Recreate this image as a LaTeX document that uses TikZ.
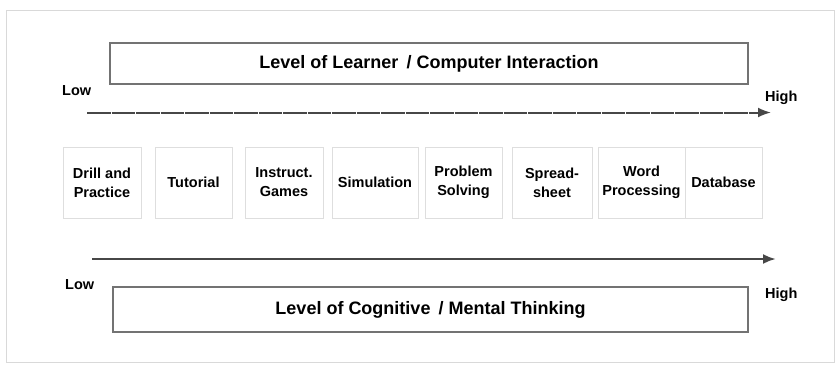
\documentclass[tikz,border=0pt]{standalone}
\usepackage{fontspec}
\setmainfont{Liberation Sans}
\usetikzlibrary{arrows.meta}
\tikzset{
    levelbox/.style={draw=black!55, line width=1.5pt, inner sep=0pt, font=\fontsize{18}{21}\selectfont\bfseries},
    toolbox/.style={draw=black!13, line width=1pt, inner sep=0pt, align=center, minimum height=71pt, font=\fontsize{14.5}{19}\selectfont\bfseries},
    endlabel/.style={inner sep=0pt, font=\fontsize{14.5}{17}\selectfont\bfseries},
    scalearrow/.style={draw=black!72, -{Latex[length=13pt,width=10pt]}}
}

\begin{document}
\begin{tikzpicture}[x=1pt, y=-1pt]
            \useasboundingbox (0,0) rectangle (838,365);
            \draw[black!15, line width=0.8pt] (6,10) rectangle (834,362);

            \node[levelbox, minimum width=638pt, minimum height=41pt] (learner) at (429,63.5) {Level of Learner\,\ / Computer Interaction};
            \node[endlabel, anchor=base west] (lowtop) at (62,95) {Low};
            \node[endlabel, anchor=base west] (hightop) at (765,101) {High};
            \coordinate (topstart) at (87,112.5);
            \coordinate (topend) at (771,112.5);
            \draw[scalearrow, line width=2pt, dash pattern=on 23.5pt off 1pt] (topstart) -- (topend);

            \node[toolbox, minimum width=78pt] (drill) at (102,182.5) {Drill and\\Practice};
            \node[toolbox, minimum width=77pt] (tutorial) at (193.5,182.5) {Tutorial};
            \node[toolbox, minimum width=78pt] (games) at (284,182.5) {Instruct.\\Games};
            \node[toolbox, minimum width=86pt] (simulation) at (375,182.5) {Simulation};
            \node[toolbox, minimum width=77pt] (problem) at (463.5,182.5) {Problem\\Solving};
            \node[toolbox, minimum width=80pt] (spreadsheet) at (552,182.5) {Spread-\\sheet};
            \node[toolbox, minimum width=87pt] (wordproc) at (641.5,182.5) {Word\\Processing};
            \node[toolbox, minimum width=77pt] (database) at (723.5,182.5) {Database};

            \coordinate (bottomstart) at (92,259);
            \coordinate (bottomend) at (776,259);
            \draw[scalearrow, line width=2.5pt] (bottomstart) -- (bottomend);
            \node[endlabel, anchor=base west] (lowbottom) at (65,289) {Low};
            \node[endlabel, anchor=base west] (highbottom) at (765,298) {High};
            \node[levelbox, minimum width=635pt, minimum height=45pt] (cognitive) at (430.5,309.5) {Level of Cognitive\,\ / Mental Thinking};
        \end{tikzpicture}
\end{document}
